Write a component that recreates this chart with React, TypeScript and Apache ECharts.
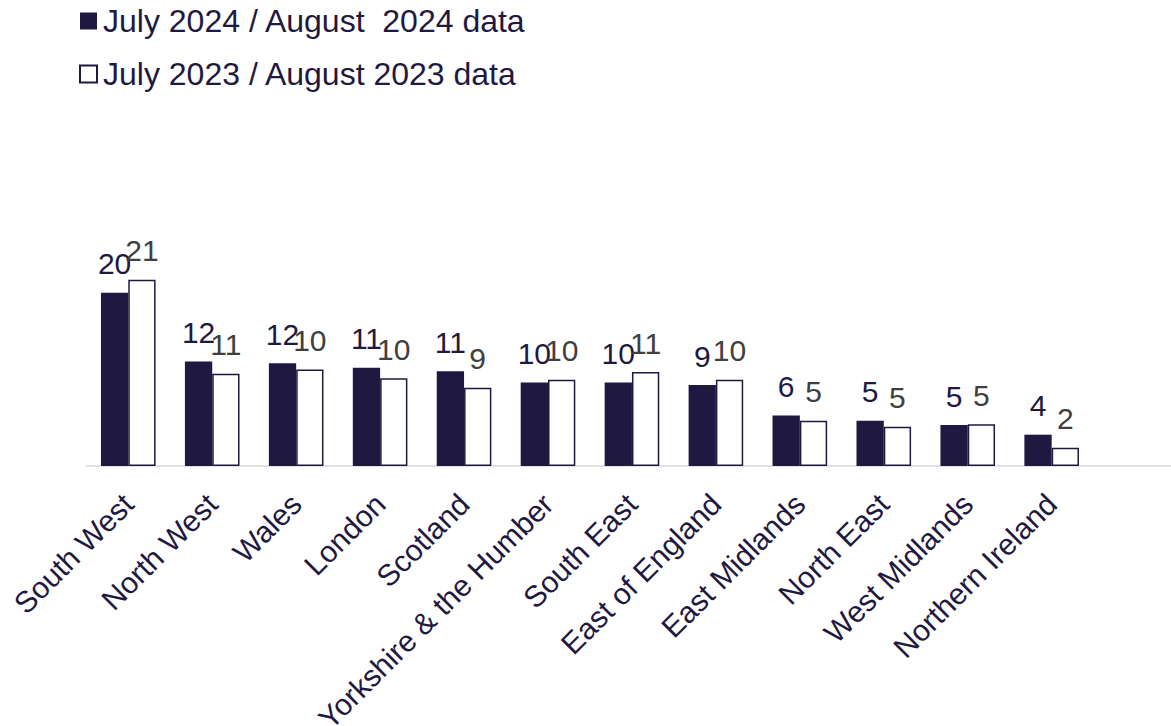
import React, { useEffect, useRef } from "react";
import * as echarts from "echarts";

const regions = [
  "South West",
  "North West",
  "Wales",
  "London",
  "Scotland",
  "Yorkshire & the Humber",
  "South East",
  "East of England",
  "East Midlands",
  "North East",
  "West Midlands",
  "Northern Ireland",
];

// bar heights
const values2024 = [19.9, 12.0, 11.8, 11.3, 10.9, 9.6, 9.6, 9.3, 5.8, 5.2, 4.7, 3.6];
const values2023 = [21.4, 10.6, 11.1, 10.1, 9.0, 9.9, 10.8, 9.9, 5.2, 4.5, 4.8, 2.1];

// numbers printed above the bars
const labels2024 = [20, 12, 12, 11, 11, 10, 10, 9, 6, 5, 5, 4];
const labels2023 = [21, 11, 10, 10, 9, 10, 11, 10, 5, 5, 5, 2];

const seriesNames = ["July 2024 / August  2024 data", "July 2023 / August 2023 data"];

const NAVY = "#1f1942";
const GREY = "#404040";
const FONT = "'Liberation Sans', Arial, sans-serif";

export default function App() {
  const ref = useRef<HTMLDivElement>(null);

  useEffect(() => {
    if (!ref.current) return;
    const chart = echarts.init(ref.current, undefined, { renderer: "svg" });
    chart.setOption({
      animation: false,
      backgroundColor: "#ffffff",
      textStyle: { fontFamily: FONT },
      legend: {
        orient: "vertical",
        left: 79,
        top: 5,
        padding: 0,
        itemWidth: 17,
        itemHeight: 17,
        itemGap: 21,
        icon: "rect",
        selectedMode: false,
        textStyle: {
          fontFamily: FONT,
          fontSize: 32,
          color: NAVY,
          padding: [0, 0, 0, 1],
        },
        data: seriesNames,
      },
      grid: {
        left: 86.3,
        right: -6.6,
        top: 248.5,
        bottom: 260,
        containLabel: false,
        outerBoundsMode: "none",
      },
      xAxis: {
        type: "category",
        data: [...regions, ""],
        boundaryGap: true,
        axisLine: { show: true, lineStyle: { color: "#d9d9d9", width: 1.5 } },
        axisTick: { show: false },
        axisLabel: {
          rotate: 45,
          interval: 0,
          margin: 33,
          fontFamily: FONT,
          fontSize: 30,
          color: NAVY,
        },
        splitLine: { show: false },
      },
      yAxis: {
        type: "value",
        min: 0,
        max: 25,
        show: false,
        splitLine: { show: false },
      },
      series: [
        {
          name: seriesNames[0],
          type: "bar",
          data: values2024,
          barWidth: 27.3,
          barGap: "0%",
          itemStyle: { color: NAVY, borderColor: NAVY, borderWidth: 0 },
          label: {
            show: true,
            position: "top",
            distance: 14,
            fontFamily: FONT,
            fontSize: 30,
            color: NAVY,
            formatter: (p: any) => String(labels2024[p.dataIndex]),
          },
        },
        {
          name: seriesNames[1],
          type: "bar",
          data: values2023,
          barWidth: 27.3,
          barGap: "0%",
          itemStyle: { color: "#ffffff", borderColor: NAVY, borderWidth: 1.5 },
          label: {
            show: true,
            position: "top",
            distance: 14,
            fontFamily: FONT,
            fontSize: 30,
            color: GREY,
            formatter: (p: any) => String(labels2023[p.dataIndex]),
          },
        },
      ],
    });
    return () => chart.dispose();
  }, []);

  return (
    <div
      ref={ref}
      style={{ position: "fixed", left: 0, top: 0, width: 1171, height: 726 }}
    />
  );
}
